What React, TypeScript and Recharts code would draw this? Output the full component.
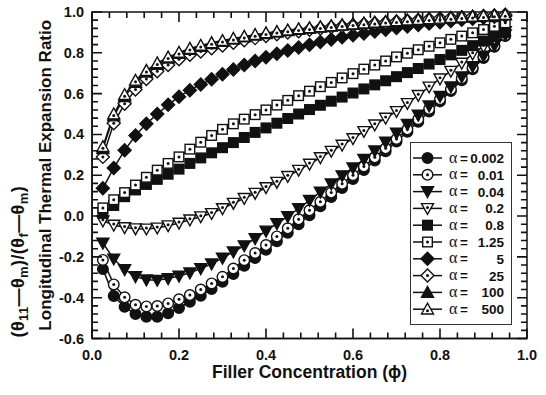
import React from 'react';
import { LineChart, Line, XAxis, YAxis, Legend, ReferenceArea } from 'recharts';

// filler concentration (x) and the ratio for each alpha
const PHI = [
  0.025, 0.05, 0.075, 0.1, 0.125, 0.15, 0.175, 0.2, 0.225, 0.25, 0.275, 0.3, 0.325,
  0.35, 0.375, 0.4, 0.425, 0.45, 0.475, 0.5, 0.525, 0.55, 0.575, 0.6, 0.625, 0.65,
  0.675, 0.7, 0.725, 0.75, 0.775, 0.8, 0.825, 0.85, 0.875, 0.9, 0.925, 0.95,
];

const A_0002 = [
  -0.26, -0.392, -0.445, -0.48, -0.493, -0.493, -0.476, -0.45, -0.42, -0.39, -0.357, -0.322, -0.284,
  -0.244, -0.205, -0.165, -0.123, -0.082, -0.04, 0.004, 0.048, 0.093, 0.138, 0.182, 0.226, 0.272,
  0.318, 0.365, 0.413, 0.462, 0.512, 0.562, 0.613, 0.666, 0.72, 0.775, 0.83, 0.882,
];
const A_001 = [
  -0.215, -0.335, -0.398, -0.435, -0.443, -0.441, -0.428, -0.408, -0.387, -0.36, -0.33, -0.298, -0.257,
  -0.216, -0.181, -0.142, -0.1, -0.06, -0.016, 0.028, 0.07, 0.115, 0.158, 0.2, 0.243, 0.288,
  0.332, 0.378, 0.425, 0.475, 0.525, 0.572, 0.622, 0.675, 0.727, 0.782, 0.835, 0.886,
];
const A_004 = [
  -0.132, -0.21, -0.262, -0.296, -0.312, -0.314, -0.306, -0.294, -0.278, -0.257, -0.234, -0.206, -0.175,
  -0.145, -0.11, -0.073, -0.037, -0.002, 0.037, 0.077, 0.118, 0.158, 0.198, 0.237, 0.278, 0.32,
  0.363, 0.407, 0.45, 0.495, 0.54, 0.587, 0.634, 0.683, 0.733, 0.784, 0.836, 0.888,
];
const A_02 = [
  -0.023, -0.044, -0.056, -0.062, -0.063, -0.058, -0.047, -0.034, -0.018, -0.003, 0.013, 0.037, 0.063,
  0.087, 0.112, 0.14, 0.166, 0.195, 0.225, 0.255, 0.287, 0.318, 0.348, 0.38, 0.415, 0.447,
  0.48, 0.513, 0.552, 0.592, 0.633, 0.673, 0.71, 0.75, 0.795, 0.832, 0.868, 0.905,
];
const A_08 = [
  0.013, 0.052, 0.095, 0.128, 0.155, 0.18, 0.205, 0.23, 0.258, 0.285, 0.31, 0.335, 0.36,
  0.385, 0.41, 0.432, 0.455, 0.478, 0.5, 0.522, 0.543, 0.563, 0.583, 0.603, 0.623, 0.643,
  0.663, 0.683, 0.703, 0.723, 0.745, 0.767, 0.79, 0.812, 0.835, 0.858, 0.88, 0.9,
];
const A_125 = [
  0.04, 0.08, 0.115, 0.152, 0.19, 0.225, 0.258, 0.29, 0.328, 0.362, 0.395, 0.425, 0.452,
  0.475, 0.497, 0.52, 0.544, 0.567, 0.59, 0.612, 0.634, 0.655, 0.677, 0.698, 0.72, 0.74,
  0.76, 0.78, 0.798, 0.815, 0.832, 0.849, 0.866, 0.882, 0.898, 0.914, 0.93, 0.947,
];
const A_5 = [
  0.136, 0.236, 0.322, 0.395, 0.452, 0.5, 0.545, 0.585, 0.617, 0.645, 0.67, 0.695, 0.718,
  0.74, 0.76, 0.778, 0.795, 0.811, 0.826, 0.84, 0.853, 0.865, 0.876, 0.886, 0.895, 0.904,
  0.913, 0.921, 0.929, 0.936, 0.943, 0.95, 0.956, 0.962, 0.967, 0.972, 0.977, 0.981,
];
const A_25 = [
  0.29, 0.455, 0.55, 0.62, 0.672, 0.71, 0.74, 0.768, 0.79, 0.806, 0.822, 0.836, 0.849,
  0.861, 0.872, 0.882, 0.891, 0.899, 0.906, 0.913, 0.919, 0.925, 0.93, 0.935, 0.94, 0.945,
  0.949, 0.953, 0.957, 0.961, 0.964, 0.968, 0.971, 0.974, 0.977, 0.98, 0.983, 0.986,
];
const A_100 = [
  0.33, 0.49, 0.585, 0.655, 0.705, 0.743, 0.773, 0.797, 0.816, 0.831, 0.844, 0.856, 0.867,
  0.877, 0.886, 0.894, 0.901, 0.908, 0.914, 0.92, 0.925, 0.93, 0.935, 0.939, 0.943, 0.947,
  0.951, 0.955, 0.958, 0.961, 0.965, 0.968, 0.971, 0.974, 0.977, 0.98, 0.983, 0.986,
];
const A_500 = [
  0.34, 0.5, 0.595, 0.665, 0.713, 0.75, 0.779, 0.802, 0.821, 0.836, 0.849, 0.86, 0.87,
  0.88, 0.889, 0.897, 0.904, 0.911, 0.917, 0.922, 0.927, 0.932, 0.936, 0.941, 0.945, 0.949,
  0.953, 0.956, 0.96, 0.963, 0.966, 0.969, 0.972, 0.975, 0.978, 0.981, 0.984, 0.987,
];

const ALPHA_LABELS = ['0.002', '0.01', '0.04', '0.2', '0.8', '1.25', '5', '25', '100', '500'];

const X_TICKS = [
  0, 0.04, 0.08, 0.12, 0.16, 0.2, 0.24, 0.28, 0.32, 0.36, 0.4, 0.44, 0.48, 0.52,
  0.56, 0.6, 0.64, 0.68, 0.72, 0.76, 0.8, 0.84, 0.88, 0.92, 0.96, 1.0,
];
const Y_TICKS = [
  -0.6, -0.56, -0.52, -0.48, -0.44, -0.4, -0.36, -0.32, -0.28, -0.24, -0.2, -0.16, -0.12,
  -0.08, -0.04, 0, 0.04, 0.08, 0.12, 0.16, 0.2, 0.24, 0.28, 0.32, 0.36, 0.4, 0.44,
  0.48, 0.52, 0.56, 0.6, 0.64, 0.68, 0.72, 0.76, 0.8, 0.84, 0.88, 0.92, 0.96, 1.0,
];

type Shape = 'circle' | 'square' | 'diamond' | 'down' | 'up';

const SERIES: { key: string; values: number[]; shape: Shape; filled: boolean }[] = [
  { key: 'a0002', values: A_0002, shape: 'circle', filled: true },
  { key: 'a001', values: A_001, shape: 'circle', filled: false },
  { key: 'a004', values: A_004, shape: 'down', filled: true },
  { key: 'a02', values: A_02, shape: 'down', filled: false },
  { key: 'a08', values: A_08, shape: 'square', filled: true },
  { key: 'a125', values: A_125, shape: 'square', filled: false },
  { key: 'a5', values: A_5, shape: 'diamond', filled: true },
  { key: 'a25', values: A_25, shape: 'diamond', filled: false },
  { key: 'a100', values: A_100, shape: 'up', filled: true },
  { key: 'a500', values: A_500, shape: 'up', filled: false },
];

const data = PHI.map((phi, i) => {
  const row: Record<string, number> = { phi };
  SERIES.forEach(s => { row[s.key] = s.values[i]; });
  return row;
});

const W = 546;
const H = 395;
const MARGIN = { top: 12, right: 19, bottom: 0, left: 0 };
const PLOT_TOP = MARGIN.top;
const PLOT_RIGHT = W - MARGIN.right;

const FONT = "'Liberation Sans', Arial, sans-serif";
const INK = '#111';
const TICK_W = 1.6;

const Marker = ({ cx, cy, shape, filled }: { cx: number; cy: number; shape: Shape; filled: boolean }) => {
  const fill = filled ? INK : '#fff';
  const common = { fill, stroke: INK, strokeWidth: 1.4 };
  let body: React.ReactNode = null;
  let dotY = cy;
  if (shape === 'circle') body = <circle cx={cx} cy={cy} r={5.3} {...common} />;
  if (shape === 'square') body = <rect x={cx - 4.8} y={cy - 4.8} width={9.6} height={9.6} {...common} />;
  if (shape === 'diamond')
    body = <polygon points={`${cx},${cy - 6.5} ${cx + 6.5},${cy} ${cx},${cy + 6.5} ${cx - 6.5},${cy}`} {...common} />;
  if (shape === 'down') {
    body = <polygon points={`${cx - 6},${cy - 4.8} ${cx + 6},${cy - 4.8} ${cx},${cy + 6}`} {...common} />;
    dotY = cy - 1;
  }
  if (shape === 'up') {
    body = <polygon points={`${cx - 6},${cy + 4.8} ${cx + 6},${cy + 4.8} ${cx},${cy - 6}`} {...common} />;
    dotY = cy + 1.5;
  }
  return (
    <g>
      {body}
      {!filled && <circle cx={cx} cy={dotY} r={1.5} fill={INK} />}
    </g>
  );
};

const isMajor = (v: number) => Math.abs(v * 5 - Math.round(v * 5)) < 1e-6;
const tickLen = (v: number) => (isMajor(v) ? 10 : 6);

// bottom tick (inward), its mirror on the top edge, and the label for major values
const BottomTick = (props: any) => {
  const { x, y, payload } = props;
  const len = tickLen(payload.value);
  return (
    <g>
      <path d={`M${x},${y}V${y - len}M${x},${PLOT_TOP}V${PLOT_TOP + len}`} stroke={INK} strokeWidth={TICK_W} fill="none" />
      {isMajor(payload.value) && (
        <text x={x} y={y + 21.5} textAnchor="middle" fontFamily={FONT} fontWeight="bold" fontSize={14.5} fill={INK}>
          {payload.value.toFixed(1)}
        </text>
      )}
    </g>
  );
};

// left tick (inward), its mirror on the right edge, and the label for major values
const LeftTick = (props: any) => {
  const { x, y, payload } = props;
  const len = tickLen(payload.value);
  return (
    <g>
      <path d={`M${x},${y}H${x + len}M${PLOT_RIGHT},${y}H${PLOT_RIGHT - len}`} stroke={INK} strokeWidth={TICK_W} fill="none" />
      {isMajor(payload.value) && (
        <text x={x - 8} y={y + 5} textAnchor="end" fontFamily={FONT} fontWeight="bold" fontSize={14.5} fill={INK}>
          {payload.value.toFixed(1)}
        </text>
      )}
    </g>
  );
};

const YTitle = (props: any) => {
  const { viewBox } = props;
  const bottom = viewBox.y + viewBox.height - 1;
  const mid = viewBox.y + viewBox.height / 2;
  const x1 = 24;
  const x2 = 51;
  return (
    <g fontFamily={FONT} fontWeight="bold" fill={INK}>
      <text x={x1} y={bottom} transform={`rotate(-90 ${x1} ${bottom})`} fontSize={18} letterSpacing={0.4} textAnchor="start">
        (θ<tspan fontSize={13} dy={4}>11</tspan>
        <tspan dy={-4}>—θ</tspan>
        <tspan fontSize={13} dy={4}>m</tspan>
        <tspan dy={-4}>)/(θ</tspan>
        <tspan fontSize={13} dy={4}>f</tspan>
        <tspan dy={-4}>—θ</tspan>
        <tspan fontSize={13} dy={4}>m</tspan>
        <tspan dy={-4}>)</tspan>
      </text>
      <text x={x2} y={mid} transform={`rotate(-90 ${x2} ${mid})`} fontSize={17} textAnchor="middle">
        Longitudinal Thermal Expansion Ratio
      </text>
    </g>
  );
};

const XTitle = (props: any) => {
  const { viewBox } = props;
  return (
    <text x={viewBox.x + viewBox.width / 2} y={378} textAnchor="middle" fontFamily={FONT} fontWeight="bold" fontSize={17.5} fill={INK}>
      Filler Concentration (ϕ)
    </text>
  );
};

const LegendBox = () => (
  <div style={{ width: 102, height: 183, border: '1.5px solid #333', boxSizing: 'border-box', background: '#fff' }}>
    <svg width={99} height={180} style={{ display: 'block' }}>
      {SERIES.map((s, i) => {
        const y = 15 + i * 16.8;
        return (
          <g key={s.key}>
            <line x1={2} x2={31} y1={y} y2={y} stroke={INK} strokeWidth={1.5} />
            <Marker cx={16.5} cy={y} shape={s.shape} filled={s.filled} />
            <text x={38} y={y + 4.5} fontFamily="'Liberation Serif', serif" fontSize={16} fill={INK}>α</text>
            <text x={49} y={y + 4.5} fontFamily={FONT} fontWeight="bold" fontSize={13.5} fill={INK}>=</text>
            <text x={93} y={y + 5} textAnchor="end" fontFamily={FONT} fontWeight="bold" fontSize={13.5} fill={INK}>
              {ALPHA_LABELS[i]}
            </text>
          </g>
        );
      })}
    </svg>
  </div>
);

export default function App() {
  return (
    <div style={{ position: 'absolute', left: 0, top: 0, width: W, height: H, background: '#fff' }}>
      <LineChart width={W} height={H} data={data} margin={MARGIN}>
        <XAxis
          dataKey="phi"
          type="number"
          domain={[0, 1]}
          ticks={X_TICKS}
          interval={0}
          height={56.5}
          tickSize={0}
          tickMargin={0}
          tick={<BottomTick />}
          axisLine={{ stroke: INK, strokeWidth: 1.5 }}
          label={<XTitle />}
        />
        <YAxis
          type="number"
          domain={[-0.6, 1]}
          ticks={Y_TICKS}
          interval={0}
          width={92}
          tickSize={0}
          tickMargin={0}
          tick={<LeftTick />}
          axisLine={{ stroke: INK, strokeWidth: 1.5 }}
          label={<YTitle />}
        />
        <ReferenceArea x1={0} x2={1} y1={-0.6} y2={1} fill="none" stroke={INK} strokeWidth={1.5} ifOverflow="visible" />
        {SERIES.map(s => (
          <Line
            key={s.key}
            dataKey={s.key}
            type="linear"
            stroke={INK}
            strokeWidth={1.5}
            isAnimationActive={false}
            activeDot={false}
            dot={(p: any) => <Marker key={`${s.key}-${p.index}`} cx={p.cx} cy={p.cy} shape={s.shape} filled={s.filled} />}
          />
        ))}
        <Legend
          layout="vertical"
          align="center"
          verticalAlign="middle"
          content={<LegendBox />}
          wrapperStyle={{ position: 'absolute', left: 410, top: 142, width: 102, height: 183 }}
        />
      </LineChart>
    </div>
  );
}
